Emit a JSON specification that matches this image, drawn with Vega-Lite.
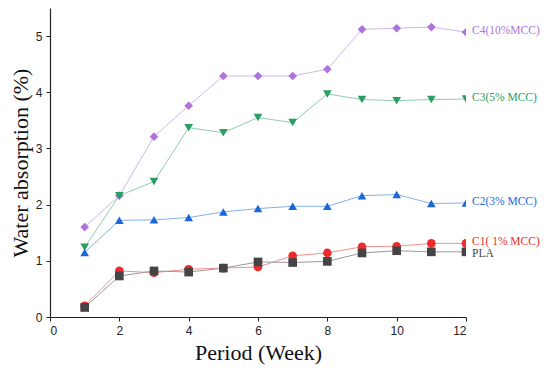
{
  "$schema": "https://vega.github.io/schema/vega-lite/v6.json",
  "width": 416,
  "height": 309,
  "autosize": "none",
  "padding": {"left": 50, "top": 8, "right": 84, "bottom": 53},
  "background": "white",
  "config": {"view": {"stroke": null}},
  "data": {"values": [
    {"series":"C4","week":1,"value":1.6},{"series":"C4","week":2,"value":2.16},{"series":"C4","week":3,"value":3.21},{"series":"C4","week":4,"value":3.76},{"series":"C4","week":5,"value":4.29},{"series":"C4","week":6,"value":4.29},{"series":"C4","week":7,"value":4.29},{"series":"C4","week":8,"value":4.41},{"series":"C4","week":9,"value":5.12},{"series":"C4","week":10,"value":5.14},{"series":"C4","week":11,"value":5.16},{"series":"C4","week":12,"value":5.07},
    {"series":"C3","week":1,"value":1.24},{"series":"C3","week":2,"value":2.16},{"series":"C3","week":3,"value":2.41},{"series":"C3","week":4,"value":3.37},{"series":"C3","week":5,"value":3.28},{"series":"C3","week":6,"value":3.55},{"series":"C3","week":7,"value":3.46},{"series":"C3","week":8,"value":3.97},{"series":"C3","week":9,"value":3.87},{"series":"C3","week":10,"value":3.85},{"series":"C3","week":11,"value":3.87},{"series":"C3","week":12,"value":3.88},
    {"series":"C2","week":1,"value":1.15},{"series":"C2","week":2,"value":1.72},{"series":"C2","week":3,"value":1.73},{"series":"C2","week":4,"value":1.77},{"series":"C2","week":5,"value":1.87},{"series":"C2","week":6,"value":1.93},{"series":"C2","week":7,"value":1.97},{"series":"C2","week":8,"value":1.97},{"series":"C2","week":9,"value":2.16},{"series":"C2","week":10,"value":2.18},{"series":"C2","week":11,"value":2.02},{"series":"C2","week":12,"value":2.03},
    {"series":"C1","week":1,"value":0.2},{"series":"C1","week":2,"value":0.82},{"series":"C1","week":3,"value":0.79},{"series":"C1","week":4,"value":0.85},{"series":"C1","week":5,"value":0.87},{"series":"C1","week":6,"value":0.89},{"series":"C1","week":7,"value":1.09},{"series":"C1","week":8,"value":1.14},{"series":"C1","week":9,"value":1.25},{"series":"C1","week":10,"value":1.26},{"series":"C1","week":11,"value":1.31},{"series":"C1","week":12,"value":1.31},
    {"series":"PLA","week":1,"value":0.17},{"series":"PLA","week":2,"value":0.73},{"series":"PLA","week":3,"value":0.82},{"series":"PLA","week":4,"value":0.8},{"series":"PLA","week":5,"value":0.87},{"series":"PLA","week":6,"value":0.98},{"series":"PLA","week":7,"value":0.97},{"series":"PLA","week":8,"value":0.99},{"series":"PLA","week":9,"value":1.14},{"series":"PLA","week":10,"value":1.18},{"series":"PLA","week":11,"value":1.16},{"series":"PLA","week":12,"value":1.16}
  ]},
  "layer": [
    {
      "mark": {"type": "line", "strokeWidth": 1, "clip": true},
      "encoding": {
        "x": {"field": "week", "type": "quantitative",
          "scale": {"domain": [0, 12], "nice": false},
          "axis": {"values": [0,1,2,3,4,5,6,7,8,9,10,11,12], "format": "d", "labelExpr": "datum.value % 2 === 0 ? datum.label : ''",
            "title": "Period (Week)", "titleFont": "Liberation Serif", "titleFontSize": 22, "titleFontWeight": "normal", "titleColor": "#111", "titlePadding": 6,
            "labelFont": "Liberation Sans", "labelFontSize": 12, "labelColor": "#222", "labelPadding": 4,
            "grid": false, "domainColor": "#222", "tickColor": "#222", "tickSize": 4, "domainWidth": 1.2}},
        "y": {"field": "value", "type": "quantitative",
          "scale": {"domain": [0, 5.5], "nice": false},
          "axis": {"values": [0,0.5,1,1.5,2,2.5,3,3.5,4,4.5,5,5.5], "format": "d", "labelExpr": "datum.value % 1 === 0 ? datum.label : ''",
            "title": "Water absorption (%)", "titleFont": "Liberation Serif", "titleFontSize": 22, "titleFontWeight": "normal", "titleColor": "#111", "titlePadding": 3,
            "labelFont": "Liberation Sans", "labelFontSize": 12, "labelColor": "#222", "labelPadding": 4,
            "grid": false, "domainColor": "#222", "tickColor": "#222", "tickSize": 4, "domainWidth": 1.2}},
        "detail": {"field": "series"},
        "stroke": {"field": "series", "type": "nominal", "legend": null,
          "scale": {"domain": ["C4","C3","C2","C1","PLA"], "range": ["#d2b6ec","#8ecdb0","#86b0e8","#f29090","#9a9a9a"]}}
      }
    },
    {
      "mark": {"type": "point", "filled": true, "size": 75, "opacity": 1, "clip": true},
      "encoding": {
        "x": {"field": "week", "type": "quantitative"},
        "y": {"field": "value", "type": "quantitative"},
        "shape": {"field": "series", "type": "nominal", "legend": null,
          "scale": {"domain": ["C4","C3","C2","C1","PLA"], "range": ["diamond","triangle-down","triangle-up","circle","square"]}},
        "fill": {"field": "series", "type": "nominal", "legend": null,
          "scale": {"domain": ["C4","C3","C2","C1","PLA"], "range": ["#ad72dc","#2a9e62","#1a68d8","#ee2b2b","#444444"]}}
      }
    },
    {
      "transform": [{"filter": "datum.week === 12 && datum.series !== 'PLA'"},
        {"calculate": "datum.series === 'C4' ? 'C4(10%MCC)' : datum.series === 'C3' ? 'C3(5% MCC)' : datum.series === 'C2' ? 'C2(3% MCC)' : 'C1( 1% MCC)'", "as": "label"}],
      "mark": {"type": "text", "align": "left", "baseline": "middle", "dx": 6, "dy": -1, "font": "Liberation Serif", "fontSize": 11.5},
      "encoding": {
        "x": {"field": "week", "type": "quantitative"},
        "y": {"field": "value", "type": "quantitative"},
        "text": {"field": "label"},
        "fill": {"field": "series", "type": "nominal", "legend": null}
      }
    },
    {
      "transform": [{"filter": "datum.week === 12 && datum.series === 'PLA'"}],
      "mark": {"type": "text", "align": "left", "baseline": "middle", "dx": 6, "dy": 2, "font": "Liberation Serif", "fontSize": 11.5},
      "encoding": {
        "x": {"field": "week", "type": "quantitative"},
        "y": {"field": "value", "type": "quantitative"},
        "text": {"field": "series"},
        "fill": {"field": "series", "type": "nominal", "legend": null}
      }
    }
  ]
}
